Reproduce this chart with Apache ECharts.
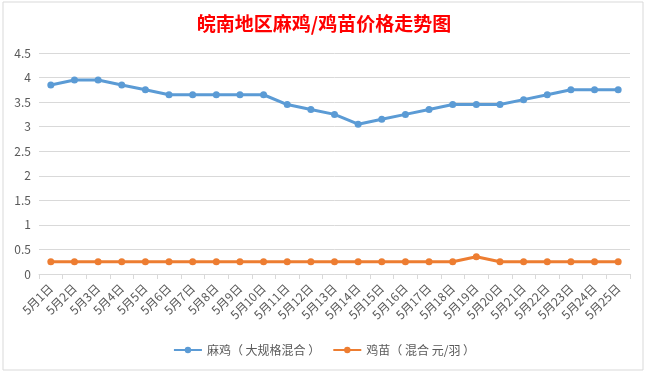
<!DOCTYPE html>
<html>
<head>
<meta charset="utf-8">
<script src="https://cdn.jsdelivr.net/npm/echarts@6/dist/echarts.min.js"></script>
<style>html,body{margin:0;padding:0;background:#fff;}#c{width:648px;height:373px;}</style>
</head>
<body>
<div id="c"></div>
<script>
const categories = ['5月1日','5月2日','5月3日','5月4日','5月5日','5月6日','5月7日','5月8日','5月9日','5月10日','5月11日','5月12日','5月13日','5月14日','5月15日','5月16日','5月17日','5月18日','5月19日','5月20日','5月21日','5月22日','5月23日','5月24日','5月25日'];
const majiValues = [3.85,3.95,3.95,3.85,3.75,3.65,3.65,3.65,3.65,3.65,3.45,3.35,3.25,3.05,3.15,3.25,3.35,3.45,3.45,3.45,3.55,3.65,3.75,3.75,3.75];
const jimiaoValues = [0.25,0.25,0.25,0.25,0.25,0.25,0.25,0.25,0.25,0.25,0.25,0.25,0.25,0.25,0.25,0.25,0.25,0.25,0.35,0.25,0.25,0.25,0.25,0.25,0.25];
const seriesNames = ['麻鸡（ 大规格混合 ）','鸡苗（ 混合 元/羽 ）'];
const titleText = '皖南地区麻鸡/鸡苗价格走势图';

const font = '"Noto Sans CJK SC", "Microsoft YaHei", sans-serif';
const chart = echarts.init(document.getElementById('c'), null, {renderer:'canvas'});
chart.setOption({
  animation: false,
  backgroundColor: '#fff',
  graphic: [{
    type: 'rect', shape: {x: 3, y: 2, width: 640, height: 368},
    style: {fill: 'none', stroke: '#d9d9d9', lineWidth: 1}, silent: true, z: -1
  }],
  title: {
    text: titleText, left: 'center', top: 9,
    textStyle: {color: '#ff0000', fontSize: 19, fontWeight: 'bold', fontFamily: font}
  },
  legend: {
    bottom: 12, left: 'center', itemWidth: 28, itemHeight: 8, itemGap: 12,
    textStyle: {color: '#595959', fontSize: 12, fontFamily: font},
    data: seriesNames
  },
  grid: {left: 39, right: 18, top: 53, bottom: 99, containLabel: false},
  xAxis: {
    type: 'category', data: categories, boundaryGap: true,
    axisLine: {lineStyle: {color: '#d9d9d9'}},
    axisTick: {show: true, length: 5, lineStyle: {color: '#d9d9d9'}},
    axisLabel: {rotate: 45, interval: 0, color: '#595959', fontSize: 12, margin: 12, fontFamily: font}
  },
  yAxis: {
    type: 'value', min: 0, max: 4.5, interval: 0.5,
    axisLine: {show: false}, axisTick: {show: false},
    splitLine: {lineStyle: {color: '#d9d9d9'}},
    axisLabel: {color: '#595959', fontSize: 12, margin: 8, fontFamily: font}
  },
  series: [
    {name: seriesNames[0], type: 'line', data: majiValues, symbol: 'circle', symbolSize: 7,
     lineStyle: {width: 3, color: '#5b9bd5'}, itemStyle: {color: '#5b9bd5'}},
    {name: seriesNames[1], type: 'line', data: jimiaoValues, symbol: 'circle', symbolSize: 7,
     lineStyle: {width: 3, color: '#ed7d31'}, itemStyle: {color: '#ed7d31'}}
  ]
});
</script>
</body>
</html>
